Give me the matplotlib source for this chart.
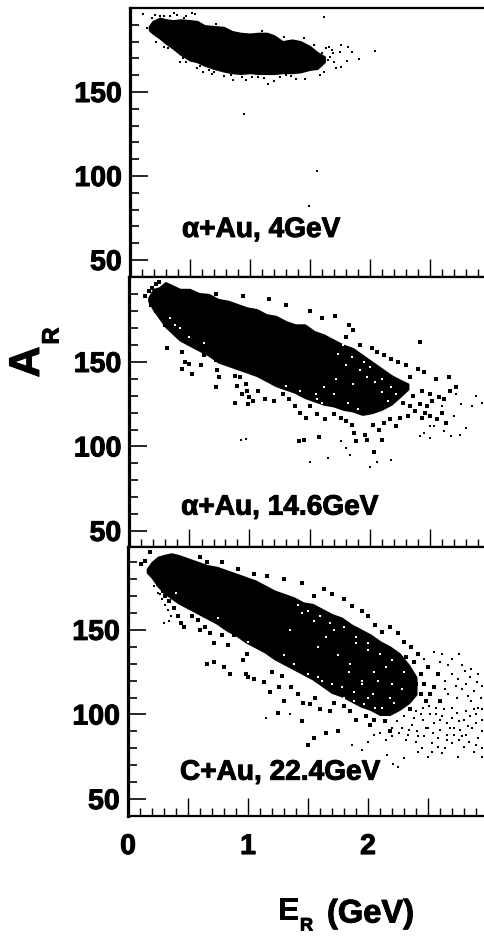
import matplotlib
matplotlib.use("Agg")
import matplotlib.pyplot as plt
import matplotlib.patheffects as pe
import numpy as np

plt.rcParams['font.family'] = ['Liberation Sans', 'DejaVu Sans']
W, H = 485, 936

panel_labels = ["α+Au, 4GeV", "α+Au, 14.6GeV", "C+Au, 22.4GeV"]
y_major = [50, 100, 150]

# dense core envelopes: energy, lower A, upper A
core1_E = [.16,.19,.25,.30,.36,.42,.50,.56,.62,.70,.78,.85,.92,1.00,1.07,1.14,1.20,1.27,1.35,1.42,1.50,1.56,1.62]
core1_hi = [189,192,194,193,192.5,193,192.5,192,189.5,189,188.5,186,185,184.5,185,185,183.5,180,181,180,177,173.5,171]
core1_lo = [187,185,182,179,176,172.5,169,168,166,164,162.5,161.5,161,161.5,161,161,161,161.5,161.5,162,163.5,164,168]

core2_E = [.16,.20,.25,.30,.36,.42,.50,.58,.66,.74,.82,.90,.98,1.06,1.14,1.22,1.30,1.38,1.46,1.54,1.62,1.70,1.78,1.86,1.94,2.02,2.10,2.18,2.26,2.32]
core2_hi = [188,193,194,197,195,193,193,190.5,190,187,186,184,182,181,178,177,174,172,172,168,166,163,160,158,154,150,146,142,139,137]
core2_lo = [186,181,176,171,167,163,160,157,154,150,148,146,144,142,139,136,134,132,129,127,125,124,122,121,119,120,122,125,130,134]

core3_E = [.16,.20,.25,.30,.36,.42,.50,.58,.66,.74,.82,.90,.98,1.06,1.14,1.22,1.30,1.38,1.46,1.54,1.62,1.70,1.78,1.86,1.94,2.02,2.10,2.18,2.26,2.34,2.40]
core3_hi = [186,190,193,194,195,194,192,190,188,187,185,183,181,179,176,173,171,169,166,165,162,159,157,153,150,147,143,140,136,129,122]
core3_lo = [184,181,176,172,169,166,163,160,157,154,150,147,143,140,137,133,130,127,124,121,117,113,111,108,105,103,100,100,103,107,112]

# isolated points: (energy, A)
stray1 = [(.11,196.4),(.14,188),(.21,196),(.28,195.5),(.39,196),(.54,196.3),(.22,180),(.28,177),(.32,176.4),(.42,168),(.47,168),(.44,170),
          (.56,164),(.61,162),(.58,165.6),(.78,159.5),(.86,157),(.97,157),(.93,159),(1.15,155),(1.25,159),(1.38,158),(1.46,158),(1.62,162),
          (1.68,175),(1.67,171),(1.75,174),(1.76,178),(1.82,177),(1.85,174),(1.81,168.5),(1.76,165),(1.91,169.6),(2.04,174.4),(1.62,194.4),
          (.95,136.7),(1.56,102.8),(1.49,82.3),(1.69,173),(1.66,177),(1.70,168),(1.72,164),(.33,195),(.37,197),(.47,195),(.52,197),(.66,163),
          (.70,162),(1.07,159),(1.20,156.5),(1.30,160),(1.58,160),(1.60,166),(.18,194),(.25,195.5),(.45,193.8),(.72,190.5),(1.10,186.5),(1.28,183),
          (1.45,182),(1.53,178),(1.60,173),(1.65,169),(1.63,176),(.68,160.5),(.84,160),(1.02,159),(1.12,158.5),(1.34,159.5)]

blob2 = [(.13,189),(.16,192),(.19,194),(.22,196),(.25,197.5),(.18,184),(.22,180),(.27,177),(.30,172),(.34,171),(.40,167),(.44,164),(.31,158),(.44,156),
         (.46,150),(.44,146),(.50,149),(.52,143),(.60,148),(.62,154),(.72,151),(.73,145),(.75,141),(.72,135),(.88,142),(.92,141),(.90,136),(.97,137),
         (.98,133),(1.00,129),(.94,131),(1.07,133),(1.03,127),(1.13,128),(.88,126),(.99,125),(1.20,127),(1.28,131),(1.33,128),(1.38,124),(1.42,120),(1.50,124),
         (1.47,117),(1.56,119),(1.63,116),(1.70,119),(1.76,117),(1.80,115),(1.85,113),(1.87,108),(1.96,107),(2.03,113),(2.08,110),(1.98,104),(2.10,104),
         (1.89,103),(1.41,103.5),(1.45,104),(1.58,105.5),(2.04,97),(2.12,114),(2.17,116),(2.22,112),(2.25,117),(2.32,118),(2.38,121),(2.44,117),(2.48,124),
         (2.52,127),(2.58,129),(2.44,133),(2.50,131),(2.60,120),(2.62,128),(2.67,133),(2.72,135),(2.55,140),(2.66,141),(2.34,141),(2.40,146),(2.45,144),(2.30,148),
         (2.24,150),(2.18,152),(2.12,154),(2.06,156),(2.02,158),(1.92,160),(1.80,165),(1.86,169),(1.83,172),(1.71,177),(1.60,176),(1.50,180),(1.30,184),(1.16,187),
         (.95,189),(.72,190),(2.42,162),(2.28,134),(2.36,130),(2.42,125),(2.46,120),(2.28,126),(2.34,124),(2.2,128),(2.5,118),(2.56,116),(2.64,114)]
dust2 = [(.93,104),(.97,104.5),(2.18,92),(2.62,109),(2.68,106.4),(2.75,107),(2.8,111),(2.45,108),(2.42,106),(2.50,105),(2.85,124),(2.94,126),(2.72,131),
         (2.76,125),(2.89,130),(2.5,112),(2.6,124),(2.54,112),(2.7,118),(1.76,103),(1.80,99),(1.84,95),(2.06,91),(2.0,88),(1.65,93),(1.5,91)]

blob3 = [(.18,196),(.11,189),(.14,190.5),(.22,183),(.25,177),(.29,173),(.31,170),(.34,167),(.38,163),(.42,158),(.44,154),(.47,152),(.53,158),(.58,156),(.60,150),
         (.64,152),(.68,148),(.72,142),(.78,147),(.83,141),(.88,147),(.66,130),(.72,131),(.80,128),(.85,124),(.96,132),(.99,136),(.98,124),(1.0,122),(1.05,121),(1.13,119),
         (1.2,125),(1.28,123),(1.26,116),(1.18,113),(1.30,108),(1.36,116),(1.42,112),(1.46,107),(1.52,106),(1.56,110),(1.6,103),(1.68,102),(1.72,107),(1.8,105),(1.85,102),
         (1.9,97),(1.98,99),(2.02,94),(2.05,97),(2.14,96),(2.18,90),(1.25,101),(1.45,96),(1.55,86),(1.65,89),(1.75,90),(1.50,82),(2.3,110),(2.34,114),(2.4,118),(2.44,112),
         (2.48,108),(2.52,112),(2.47,118),(2.55,116),(2.6,108),(2.58,124),(2.5,128),(2.44,124),(2.38,131),(2.32,134),(2.36,140),(2.42,136),(2.3,143),(2.25,148),(2.18,152),
         (2.12,149),(2.06,153),(2.0,158),(1.95,161),(1.87,164),(1.8,168),(1.7,171),(1.63,174),(1.55,170),(1.45,178),(1.3,180),(1.16,182),(1.05,183),(.92,186),(.78,190),
         (.66,190),(.60,193),(2.24,120),(2.3,124),(2.28,116),(2.2,112),(2.25,106),(2.35,103),(2.18,104)]
dust3 = [(2.52,100),(2.57,104),(2.62,99),(2.66,95),(2.7,104),(2.74,110),(2.78,115),(2.82,102),(2.86,108),(2.9,95),(2.95,103),(2.64,120),(2.7,124),(2.67,129),(2.75,121),
         (2.81,126),(2.85,122),(2.78,129),(2.91,119),(2.95,117),(2.88,114),(2.83,111),(2.76,96),(2.72,88),(2.66,85),(2.6,91),(2.55,95),(2.5,92),(2.46,97),(2.41,90),(2.37,94),
         (2.33,88),(2.28,92),(2.24,96),(2.2,87),(2.15,85),(2.1,89),(2.05,88),(2.0,84),(2.32,85),(2.4,84),(2.47,87),(2.53,83),(2.58,86),(2.64,80),(2.7,83),(2.76,85),(2.82,88),
         (2.87,92),(2.92,86),(2.95,90),(2.8,81),(2.88,78),(2.95,80),(2.62,77),(2.53,78),(2.3,74),(2.21,71),(2.25,69),(2.16,76),(1.95,79),(1.87,82),(2.75,75),(2.45,80),(2.6,97),
         (2.68,92),(2.74,101),(2.8,97),(2.85,99),(2.92,104),(2.94,110),(2.88,103),(2.83,93),(2.77,91),(2.7,98),(2.63,103),(2.57,100),(2.51,105),(2.44,100),(2.38,98),(2.3,99),
         (2.92,124),(2.86,127),(2.82,118),(2.73,117),(2.67,112),(2.64,115),(2.6,131),(2.7,133),(2.62,136),(2.76,136),(2.55,137),(2.47,133),(2.95,97),(2.9,100),(2.48,92),(2.54,89),
         (2.2,92),(2.26,89),(2.34,91),(2.42,87),(2.58,81),(2.66,88),(2.72,92),(2.78,87),(2.84,84),(2.9,82),(2.42,78),(2.5,75),(2.95,75),(2.4,102),(2.46,104),(.22,176),(.25,172),
         (.28,168),(.31,165),(.33,162),(.36,158),(.34,155),(.3,154),(.25,179),(.27,171),(1.2,139),(1.35,100),(1.15,98)]

# light gaps inside the dense areas
gap2 = [(.42,170),(.50,165),(.62,161),(1.42,133),(1.55,131),(1.62,135),(1.70,131),(1.74,155),(1.80,148),(1.85,153),(1.86,137),(1.92,145),(2.0,147),(2.05,138),(2.10,132),
        (2.15,127),(1.30,136),(1.48,127),(1.56,128),(1.72,140),(1.95,150),(1.98,141),(2.1,140),(2.18,135),(2.22,131),(1.6,126),(1.82,126),(1.9,122),(.34,176),(.38,172),(1.78,160)]
gap3 = [(.75,157),(1.00,143),(1.32,127),(1.38,130),(1.50,124),(1.58,140),(1.62,120),(1.70,118),(1.72,150),(1.80,110),(1.84,125),(1.88,113),(1.90,142),(1.95,120),(1.97,106),
        (2.0,138),(2.04,112),(2.08,120),(2.12,104),(2.15,128),(2.18,110),(2.2,118),(1.45,160),(1.55,155),(1.65,146),(1.75,135),(1.85,130),(1.95,118),(2.05,125),(1.30,135),(1.35,150),
        (2.22,107),(2.28,115),(2.3,125),(1.42,165),(1.5,161),(1.6,158),(1.68,154),(1.8,152),(1.9,146),(2.0,142),(2.1,136),(2.2,132),(1.78,116),(1.88,108),(2.0,110),(2.06,104),(1.58,122),(.4,172)]


def split(pairs):
    return [p[0] for p in pairs], [p[1] for p in pairs]


panels = [
    (130, 8, 277, 200, 39.9, core1_E, core1_lo, core1_hi, stray1, [], [], panel_labels[0], 0.433, 67.9),
    (129.5, 277, 547, 200.3, 40.5, core2_E, core2_lo, core2_hi, blob2, dust2, gap2, panel_labels[1], 0.43, 63.8),
    (128, 547, 816, 199, 40, core3_E, core3_lo, core3_hi, blob3, dust3, gap3, panel_labels[2], 0.433, 65.6),
]
bold = [pe.withStroke(linewidth=0.7, foreground='black')]

fig = plt.figure(figsize=(W/100, H/100), dpi=100)
for i, (px, ptop, pbot, ymax, ymin, cE, cL, cH, blob, dust, gap, lab, lx, ly) in enumerate(panels):
    ax = fig.add_axes([px/W, 1-pbot/H, (W-px)/W, (pbot-ptop)/H])
    ax.set_xlim(0, (W-px)/120)
    ax.set_ylim(ymin, ymax)
    ax.fill_between(cE, cL, cH, color='black', lw=1.5, zorder=2)
    bE, bA = split(blob)
    ax.scatter(bE, bA, s=5 if i else 3.5, c='black', marker='s', lw=0, zorder=3)
    if dust:
        dE, dA = split(dust)
        ax.scatter(dE, dA, s=2.6, c='black', marker='s', lw=0, zorder=3)
    if gap:
        gE, gA = split(gap)
        ax.scatter(gE, gA, s=3.5, c='white', marker='s', lw=0, zorder=4)
    ax.text(lx, ly, lab, fontsize=20.2, fontweight='bold', va='center', ha='left', zorder=5, path_effects=bold)
    ax.set_yticks(y_major)
    ax.set_yticks(np.arange(60, 200, 10), minor=True)
    ax.set_xticks(np.arange(0, 3, 0.5))
    ax.set_xticks(np.arange(0, 3, 0.1), minor=True)
    ax.tick_params(axis='y', which='major', direction='in', length=13, width=1.2, pad=6, labelsize=20.5)
    ax.tick_params(axis='y', which='minor', direction='in', length=6.5, width=1.2)
    ax.tick_params(axis='x', which='major', direction='in', length=13, width=1.0, pad=13, labelsize=20.5)
    ax.tick_params(axis='x', which='minor', direction='in', length=6, width=1.0)
    for t in ax.get_yticklabels():
        t.set_fontweight('bold')
        t.set_path_effects(bold)
    ax.spines['right'].set_visible(False)
    ax.spines['left'].set_linewidth(2.3)
    ax.spines['top'].set_linewidth(1.6)
    ax.spines['bottom'].set_linewidth(1.6)
    if i == 2:
        ax.set_xticklabels(['0', '', '1', '', '2', ''], fontweight='bold', path_effects=bold)
    else:
        ax.set_xticklabels([])

fig.text(28/W, 1-362/H, "A", fontsize=31, fontweight='bold', rotation=90, ha='center', va='center', path_effects=bold)
fig.text(52/W, 1-336/H, "R", fontsize=17, fontweight='bold', rotation=90, ha='center', va='center', path_effects=bold)
fig.text(278/W, 1-911/H, "E", fontsize=22, fontweight='bold', ha='left', va='center', path_effects=bold)
fig.text(300/W, 1-926/H, "R", fontsize=13, fontweight='bold', ha='left', va='center', path_effects=bold)
fig.text(327/W, 1-914/H, "(GeV)", fontsize=23.5, fontweight='bold', ha='left', va='center', path_effects=bold)

fig.savefig("out.png", dpi=100)
